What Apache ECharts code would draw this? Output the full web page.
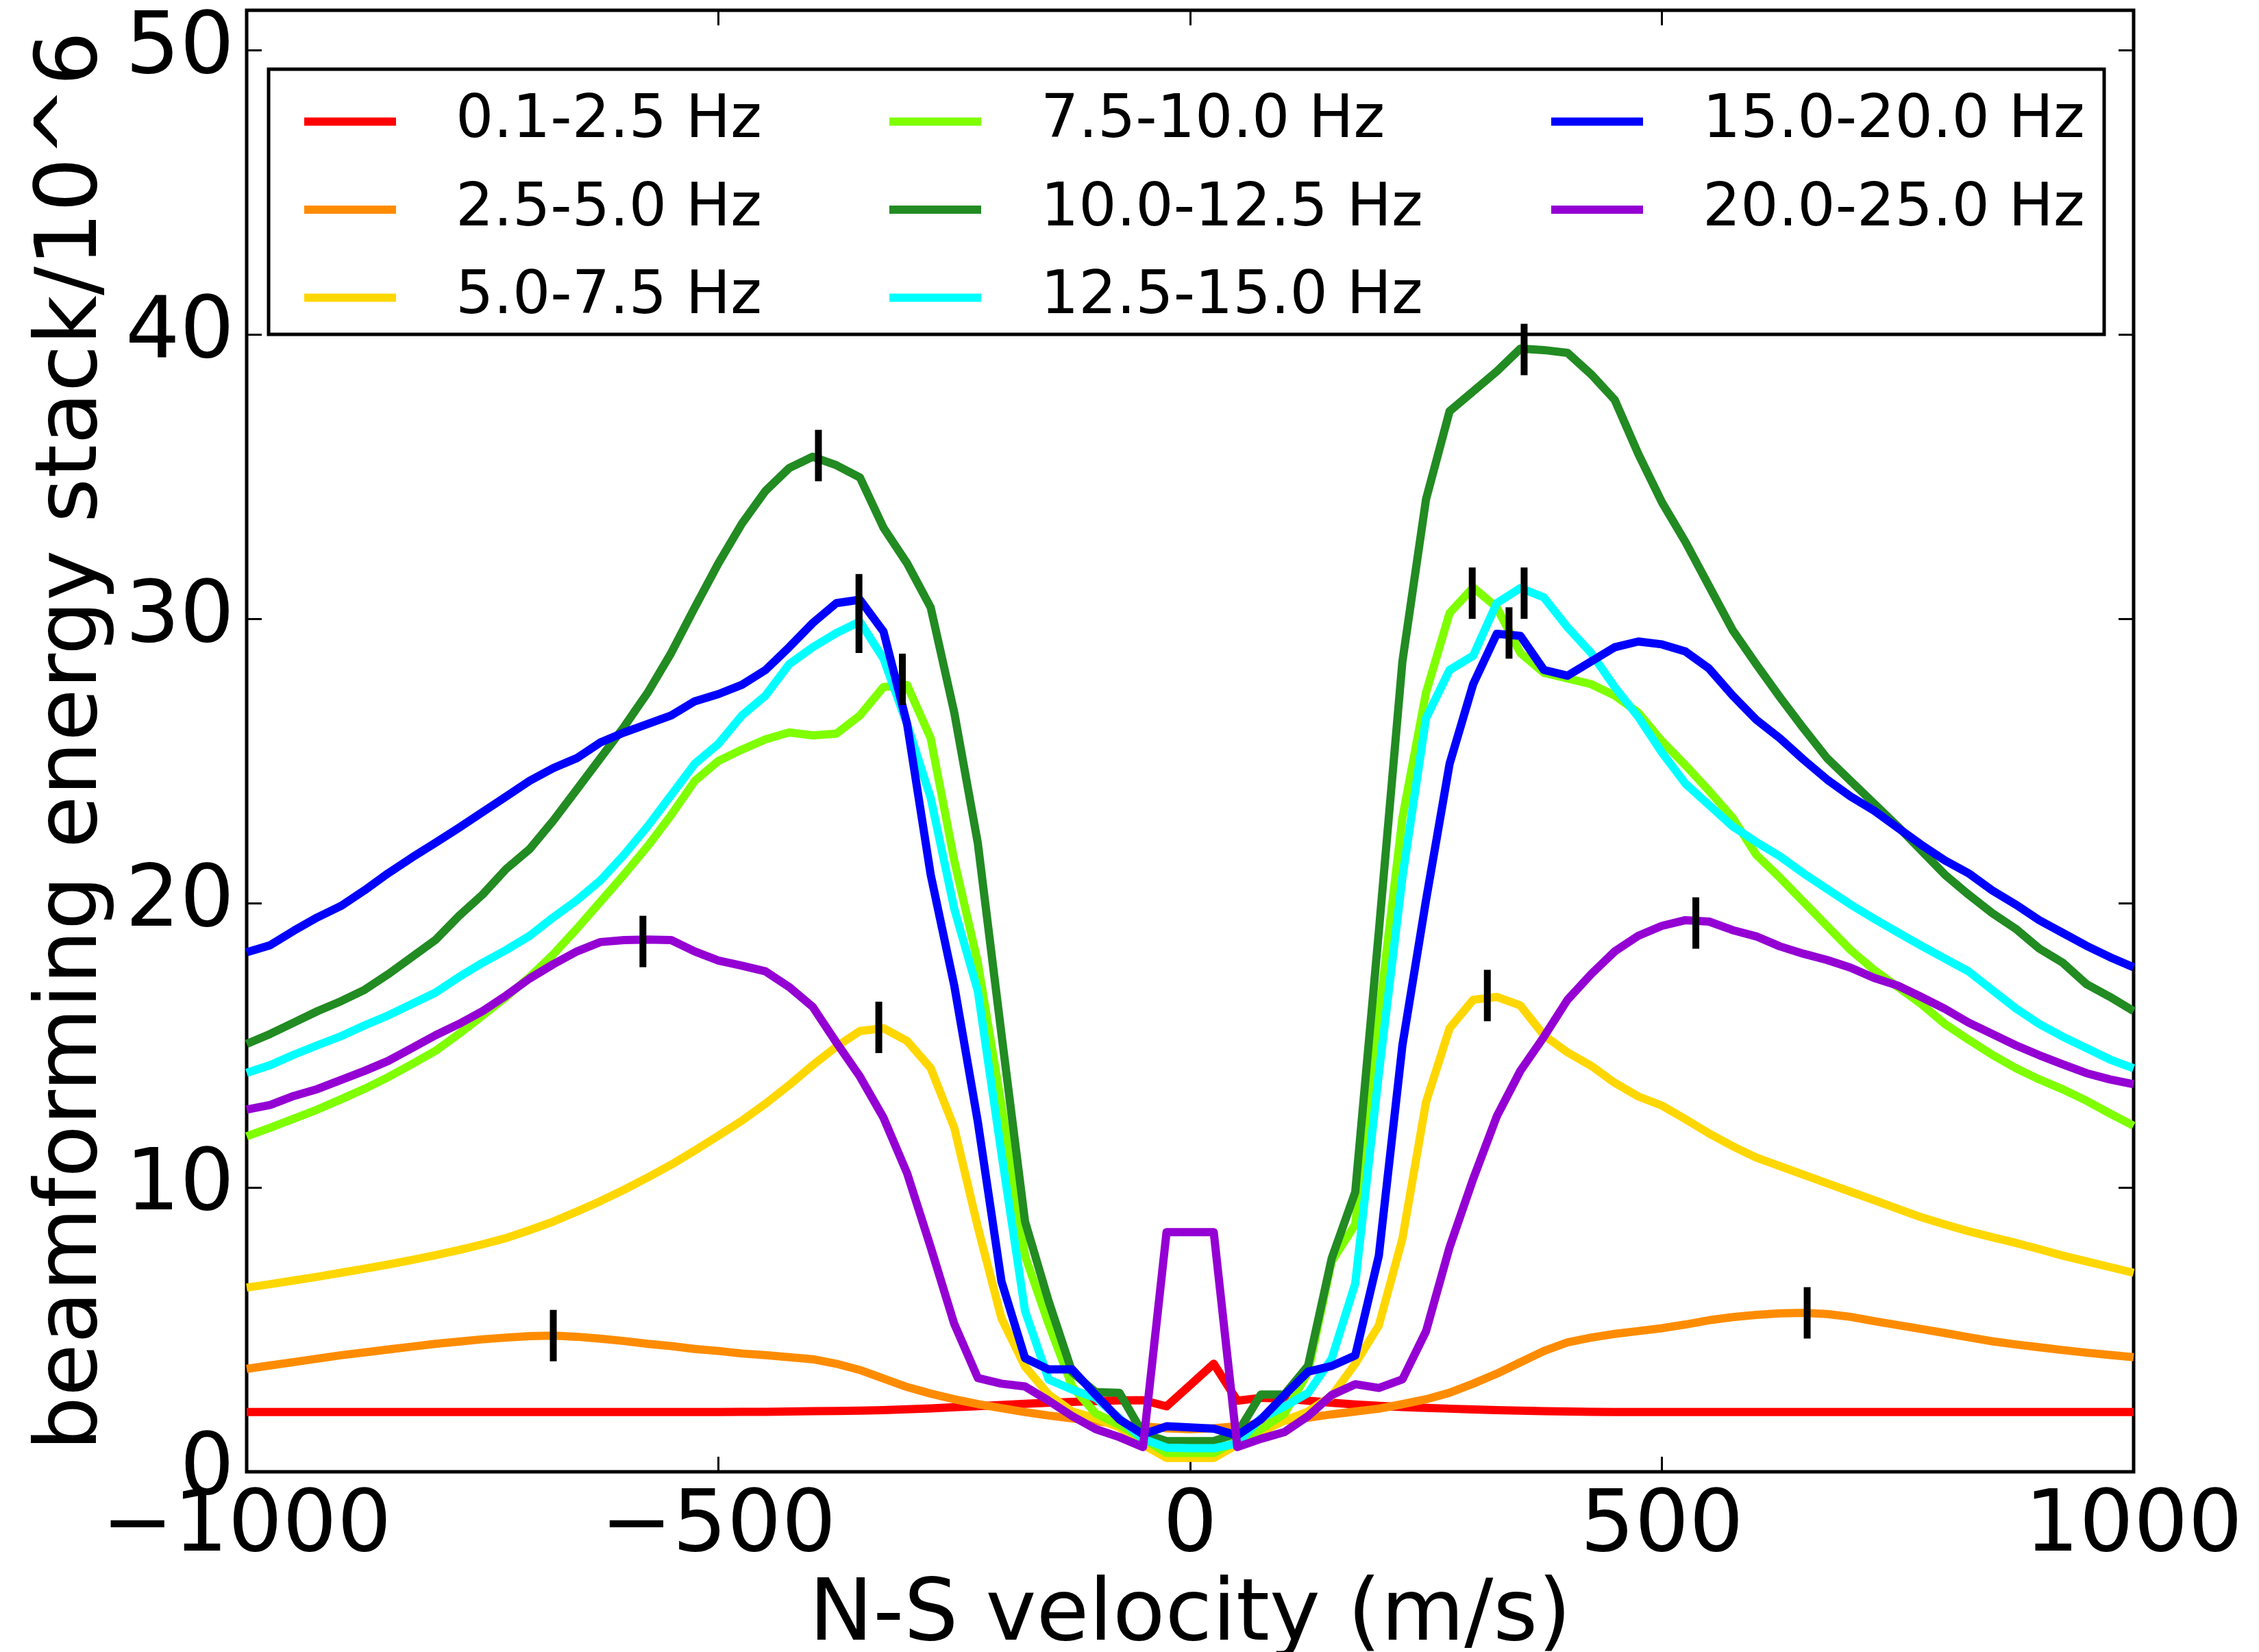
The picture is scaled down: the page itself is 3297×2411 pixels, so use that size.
<!DOCTYPE html>
<html><head><meta charset="utf-8">
<script src="https://cdn.jsdelivr.net/npm/echarts@6/dist/echarts.min.js"></script>
<style>html,body{margin:0;padding:0;background:#fff}#c{width:3297px;height:2411px}</style>
</head><body><div id="c"></div>
<script>
const velocity = [-1000,-975,-950,-925,-900,-875,-850,-825,-800,-775,-750,-725,-700,-675,-650,-625,-600,-575,-550,-525,-500,-475,-450,-425,-400,-375,-350,-325,-300,-275,-250,-225,-200,-175,-150,-125,-100,-75,-50,-25,0,25,50,75,100,125,150,175,200,225,250,275,300,325,350,375,400,425,450,475,500,525,550,575,600,625,650,675,700,725,750,775,800,825,850,875,900,925,950,975,1000];

const bandNames = ['0.1-2.5 Hz','2.5-5.0 Hz','5.0-7.5 Hz','7.5-10.0 Hz','10.0-12.5 Hz','12.5-15.0 Hz','15.0-20.0 Hz','20.0-25.0 Hz'];
const bandColors = ['#ff0000','#ff8c00','#ffd700','#7fff00','#228b22','#00ffff','#0000ff','#9400d3'];

const band01_25 = [2.1,2.1,2.1,2.1,2.1,2.1,2.1,2.1,2.1,2.1,2.1,2.1,2.1,2.1,2.1,2.1,2.1,2.1,2.1,2.1,2.1,2.11,2.11,2.12,2.13,2.14,2.15,2.17,2.2,2.23,2.27,2.31,2.35,2.39,2.43,2.46,2.49,2.51,2.52,2.3,3.05,3.8,2.5,2.6,2.57,2.5,2.43,2.37,2.32,2.28,2.25,2.22,2.19,2.17,2.15,2.13,2.12,2.11,2.1,2.1,2.1,2.1,2.1,2.1,2.1,2.1,2.1,2.1,2.1,2.1,2.1,2.1,2.1,2.1,2.1,2.1,2.1,2.1,2.1,2.1,2.1];
const band25_50 = [3.62,3.74,3.86,3.98,4.1,4.2,4.3,4.4,4.5,4.58,4.66,4.72,4.77,4.79,4.75,4.68,4.6,4.5,4.42,4.32,4.25,4.16,4.1,4.03,3.96,3.8,3.58,3.28,2.98,2.75,2.55,2.38,2.24,2.1,1.98,1.88,1.78,1.68,1.6,1.53,1.5,1.53,1.6,1.7,1.8,1.9,2.02,2.12,2.22,2.38,2.55,2.78,3.1,3.45,3.85,4.25,4.55,4.72,4.85,4.95,5.05,5.18,5.33,5.44,5.52,5.57,5.59,5.55,5.45,5.3,5.16,5.02,4.88,4.73,4.59,4.48,4.38,4.28,4.19,4.11,4.03];
const band50_75 = [6.48,6.6,6.73,6.86,7.0,7.14,7.29,7.45,7.62,7.8,8.0,8.22,8.5,8.8,9.15,9.52,9.92,10.35,10.8,11.3,11.82,12.35,12.95,13.6,14.3,14.95,15.5,15.6,15.15,14.2,12.1,8.6,5.4,3.7,2.72,2.12,1.88,1.56,0.96,0.49,0.49,0.49,0.96,1.4,1.8,2.12,2.67,3.8,5.15,8.2,13.0,15.6,16.6,16.7,16.4,15.35,14.75,14.28,13.68,13.2,12.88,12.4,11.9,11.45,11.05,10.75,10.45,10.15,9.85,9.55,9.25,8.95,8.7,8.46,8.25,8.05,7.83,7.6,7.4,7.2,7.0];
const band75_100 = [11.8,12.1,12.42,12.74,13.1,13.47,13.88,14.33,14.8,15.4,16.04,16.7,17.4,18.2,19.1,20.05,21.0,22.0,23.1,24.3,25.0,25.4,25.76,26.0,25.9,25.96,26.6,27.6,27.67,25.8,21.5,17.9,12.9,7.6,5.2,3.0,2.05,1.65,1.16,0.66,0.66,0.66,1.1,1.5,2.04,3.5,7.4,8.7,16.0,23.0,27.4,30.2,31.1,30.4,28.8,28.1,27.9,27.7,27.3,26.7,25.7,24.85,23.95,23.0,21.7,20.9,20.05,19.2,18.35,17.65,17.05,16.45,15.75,15.2,14.67,14.2,13.8,13.45,13.05,12.6,12.17];
const band100_125 = [15.05,15.4,15.8,16.2,16.55,16.95,17.5,18.1,18.7,19.55,20.3,21.2,21.9,22.9,24.0,25.1,26.2,27.4,28.8,30.4,31.95,33.35,34.5,35.3,35.7,35.4,34.97,33.2,31.95,30.4,26.7,22.1,15.4,8.8,6.0,3.5,2.8,2.78,1.35,1.08,1.08,1.08,1.36,2.72,2.72,3.73,7.5,9.84,19.0,28.5,34.2,37.3,38.0,38.7,39.5,39.45,39.35,38.6,37.7,35.8,34.1,32.7,31.15,29.6,28.4,27.25,26.15,25.1,24.3,23.5,22.7,21.85,21.0,20.3,19.65,19.1,18.4,17.9,17.15,16.7,16.2];
const band125_150 = [14.03,14.3,14.67,15.0,15.32,15.7,16.05,16.45,16.85,17.4,17.9,18.35,18.85,19.5,20.1,20.8,21.7,22.7,23.8,24.9,25.6,26.6,27.3,28.4,29.0,29.5,29.9,28.6,26.3,23.7,19.8,16.9,11.2,5.66,3.25,2.89,2.6,1.88,1.16,0.85,0.83,0.83,1.0,1.88,2.3,2.77,3.97,6.62,14.0,20.9,26.5,28.2,28.7,30.55,31.08,30.75,29.7,28.8,27.6,26.55,25.3,24.2,23.45,22.7,22.15,21.65,21.05,20.5,19.95,19.45,18.97,18.5,18.05,17.6,16.95,16.3,15.75,15.3,14.9,14.5,14.19];
const band150_200 = [18.27,18.52,19.03,19.5,19.9,20.45,21.05,21.6,22.12,22.65,23.2,23.75,24.3,24.75,25.1,25.65,26.0,26.3,26.6,27.1,27.35,27.68,28.2,29.0,29.85,30.55,30.67,29.55,26.3,21.0,17.1,12.3,6.7,4.0,3.6,3.6,2.7,1.84,1.32,1.6,1.56,1.52,1.28,1.84,2.7,3.52,3.72,4.09,7.6,15.0,20.1,24.9,27.7,29.47,29.4,28.2,28.0,28.5,29.0,29.2,29.1,28.85,28.25,27.3,26.45,25.8,25.05,24.35,23.75,23.25,22.65,22.05,21.5,21.05,20.45,19.95,19.4,18.95,18.5,18.1,17.74];
const band200_250 = [12.74,12.9,13.22,13.46,13.78,14.1,14.45,14.9,15.35,15.75,16.2,16.75,17.35,17.85,18.3,18.63,18.7,18.72,18.7,18.3,17.98,17.8,17.6,17.05,16.35,15.1,13.9,12.45,10.5,7.9,5.2,3.3,3.1,3.0,2.5,1.96,1.5,1.22,0.87,8.43,8.43,8.43,0.87,1.16,1.4,1.96,2.7,3.08,2.95,3.25,4.94,7.9,10.3,12.5,14.1,15.3,16.6,17.5,18.3,18.85,19.2,19.4,19.35,19.05,18.83,18.48,18.22,18.0,17.73,17.37,17.1,16.7,16.28,15.8,15.4,15.0,14.65,14.33,14.02,13.8,13.63];

// detected peak positions [velocity, value]
const peaks25_50 = [[-675,4.79],[654,5.59]];
const peaks50_75 = [[-330,15.63],[315,16.75]];
const peaks75_100 = [[-305,27.87],[299,30.9]];
const peaks100_125 = [[-394,35.74],[354,39.47]];
const peaks125_150 = [[-351,29.7],[354,30.9]];
const peaks150_200 = [[-351,30.67],[338,29.5]];
const peaks200_250 = [[-580,18.65],[536,19.3]];

const xTicks = {min:-1000, max:1000, step:500};
const yTicks = {min:0, max:51.4, step:10};

const bandValues = [band01_25,band25_50,band50_75,band75_100,band100_125,band125_150,band150_200,band200_250];
const allPeaks = [].concat(peaks25_50,peaks50_75,peaks75_100,peaks100_125,peaks125_150,peaks150_200,peaks200_250);

const FONT = 'DejaVu Sans';
const chart = echarts.init(document.getElementById('c'), null, {renderer:'canvas'});

const series = bandValues.map((vals, i) => ({
  name: bandNames[i], type: 'line', showSymbol: false, symbol: 'none',
  data: velocity.map((v, k) => [v, vals[k]]),
  lineStyle: {width: 12, color: bandColors[i], join: 'round'},
  itemStyle: {color: bandColors[i]},
  z: 2, animation: false
}));
series.push({
  name: 'peaks', type: 'scatter', data: allPeaks, symbol: 'rect', symbolSize: [10, 75],
  itemStyle: {color: '#000', opacity: 1}, z: 5, animation: false, silent: true
});

const tickCommon = {show: true, inside: true, length: 22, lineStyle: {color: '#000', width: 3}};
const noLine = {show: false, onZero: false};
const legendBase = (names, left) => ({
  data: names, left: left, top: 129, orient: 'vertical', icon: 'rect',
  itemWidth: 134, itemHeight: 12, itemGap: 41.5, padding: 5,
  textStyle: {fontSize: 87, lineHeight: 87, fontFamily: FONT, color: '#000', padding: [0,0,0,82]},
  selectedMode: false
});

chart.setOption({
  animation: false,
  backgroundColor: '#fff',
  textStyle: {fontFamily: FONT},
  grid: {left: 360, top: 15, width: 2754, height: 2133, outerBoundsMode: 'none', containLabel: false,
    show: true, borderColor: '#000', borderWidth: 5, backgroundColor: 'transparent'},
  xAxis: [{
    type: 'value', min: xTicks.min, max: xTicks.max, interval: xTicks.step, position: 'bottom',
    axisLine: noLine, axisTick: tickCommon, splitLine: {show: false},
    axisLabel: {fontSize: 125, color: '#000', fontFamily: FONT, margin: 20,
      formatter: v => (v < 0 ? '\u2212' + Math.abs(v) : String(v))},
    name: 'N-S velocity (m/s)', nameLocation: 'middle', nameGap: 137,
    nameTextStyle: {fontSize: 125, color: '#000', fontFamily: FONT}
  }, {
    type: 'value', min: xTicks.min, max: xTicks.max, interval: xTicks.step, position: 'top',
    axisLine: noLine, axisTick: tickCommon, splitLine: {show: false}, axisLabel: {show: false}
  }],
  yAxis: [{
    type: 'value', min: yTicks.min, max: yTicks.max, interval: yTicks.step, position: 'left',
    axisLine: noLine, axisTick: tickCommon, splitLine: {show: false},
    axisLabel: {fontSize: 125, color: '#000', fontFamily: FONT, margin: 18, showMaxLabel: false,
      formatter: v => (Math.abs(v % 10) < 1e-9 ? String(v) : '')},
    name: 'beamforming energy stack/10^6', nameLocation: 'middle', nameGap: 190,
    nameTextStyle: {fontSize: 125, color: '#000', fontFamily: FONT}
  }, {
    type: 'value', min: yTicks.min, max: yTicks.max, interval: yTicks.step, position: 'right',
    axisLine: noLine, axisTick: tickCommon, splitLine: {show: false}, axisLabel: {show: false}
  }],
  legend: [
    legendBase(bandNames.slice(0, 3), 439),
    legendBase(bandNames.slice(3, 6), 1293),
    legendBase(bandNames.slice(6, 8), 2259)
  ],
  graphic: [{
    type: 'rect', z: 1, silent: true,
    shape: {x: 392, y: 101, width: 2679, height: 387},
    style: {fill: '#fff', stroke: '#000', lineWidth: 5}
  }],
  series: series
});
</script>
</body></html>
